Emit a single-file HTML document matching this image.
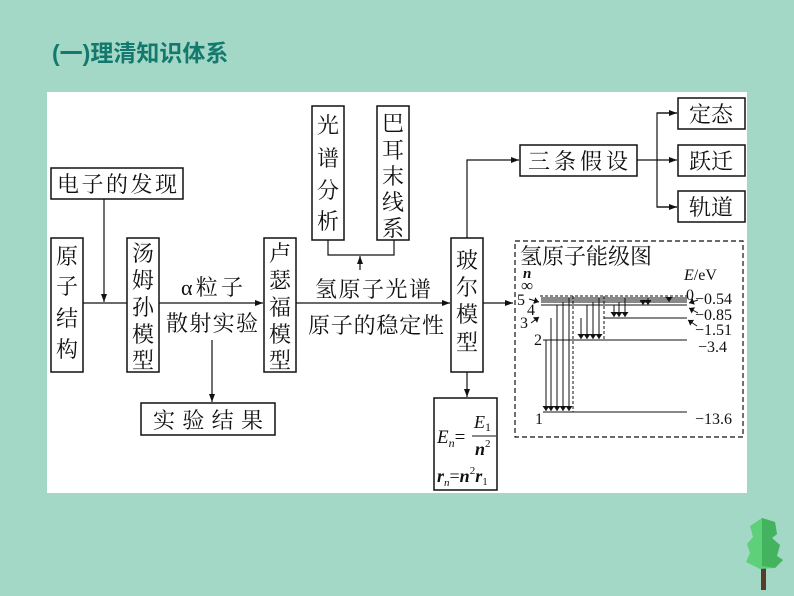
<!DOCTYPE html>
<html><head><meta charset="utf-8"><style>
html,body{margin:0;padding:0;}
body{width:794px;height:596px;background:#a4d8c6;position:relative;overflow:hidden;font-family:"Liberation Serif","Noto Serif CJK SC",serif;}
.title{position:absolute;left:52px;top:34px;font:bold 23px "Liberation Sans","Noto Sans CJK SC",sans-serif;color:#13796f;}
svg{position:absolute;left:0;top:0;}
</style></head><body>
<div class="title">(一)理清知识体系</div>
<svg width="794" height="596" viewBox="0 0 794 596" font-family="'Liberation Serif','Noto Serif CJK SC',serif">
<defs><marker id="a" markerWidth="8" markerHeight="6" refX="8" refY="3" orient="auto" markerUnits="userSpaceOnUse"><path d="M0,0 L8,3 L0,6 z" fill="#111"/></marker>
<marker id="s" markerWidth="5" markerHeight="7" refX="5" refY="3.5" orient="auto" markerUnits="userSpaceOnUse"><path d="M0,0 L5,3.5 L0,7 z" fill="#111"/></marker></defs>
<rect x="47" y="92" width="700" height="401" fill="#fff"/>
<g fill="none" stroke="#111" stroke-width="1.5">
<rect x="51" y="238" width="32" height="134"/>
<rect x="51" y="168" width="132" height="31"/>
<rect x="127" y="238" width="32" height="134"/>
<rect x="264" y="238" width="32" height="134"/>
<rect x="141" y="403" width="134" height="32"/>
<rect x="312" y="106" width="32" height="134"/>
<rect x="377" y="106" width="32" height="134"/>
<rect x="451" y="238" width="32" height="134"/>
<rect x="520" y="145" width="117" height="31"/>
<rect x="678" y="98" width="67" height="31"/>
<rect x="678" y="145" width="67" height="31"/>
<rect x="678" y="191" width="67" height="31"/>
<rect x="434" y="398" width="63" height="92"/>
</g>
<g stroke="#111" stroke-width="1.2" fill="none">
<line x1="104" y1="199" x2="104" y2="302" marker-end="url(#a)"/>
<line x1="83" y1="303" x2="127" y2="303"/>
<line x1="159" y1="303" x2="263" y2="303" marker-end="url(#a)"/>
<line x1="212" y1="340" x2="212" y2="402" marker-end="url(#a)"/>
<line x1="296" y1="303" x2="450" y2="303" marker-end="url(#a)"/>
<polyline points="328,240 328,255 394,255 394,240"/>
<line x1="360" y1="270" x2="360" y2="256" marker-end="url(#a)"/>
<line x1="483" y1="303" x2="513" y2="303" marker-end="url(#a)"/>
<polyline points="467,238 467,160 519,160" marker-end="url(#a)"/>
<line x1="467" y1="372" x2="467" y2="397" marker-end="url(#a)"/>
<line x1="637" y1="160" x2="677" y2="160" marker-end="url(#a)"/>
<polyline points="677,113 657,113 657,207 677,207"/>
<line x1="657" y1="113" x2="677" y2="113" marker-end="url(#a)"/>
<line x1="657" y1="207" x2="677" y2="207" marker-end="url(#a)"/>
</g>
<g font-size="22" fill="#111" text-anchor="middle">
<text x="67" y="264">原</text><text x="67" y="294">子</text><text x="67" y="326">结</text><text x="67" y="357">构</text>
<text x="143" y="261">汤</text><text x="143" y="288">姆</text><text x="143" y="315">孙</text><text x="143" y="342">模</text><text x="143" y="368">型</text>
<text x="280" y="261">卢</text><text x="280" y="288">瑟</text><text x="280" y="315">福</text><text x="280" y="342">模</text><text x="280" y="368">型</text>
<text x="328" y="133">光</text><text x="328" y="166">谱</text><text x="328" y="198">分</text><text x="328" y="229">析</text>
<text x="393" y="131">巴</text><text x="393" y="158">耳</text><text x="393" y="184">末</text><text x="393" y="210">线</text><text x="393" y="236">系</text>
<text x="467" y="268">玻</text><text x="467" y="295">尔</text><text x="467" y="322">模</text><text x="467" y="350">型</text>
<text x="117" y="192" textLength="120">电子的发现</text>
<text x="208" y="428" textLength="110">实验结果</text>
<text x="578" y="169" textLength="100">三条假设</text>
<text x="711" y="122">定态</text><text x="711" y="169">跃迁</text><text x="711" y="215">轨道</text>
<text x="212" y="295" textLength="62">α粒子</text>
<text x="212" y="331" textLength="92">散射实验</text>
<text x="373" y="297" textLength="116">氢原子光谱</text>
<text x="376" y="333" textLength="136">原子的稳定性</text>
</g>
<g fill="#111" font-style="italic">
<text x="437" y="443" font-size="19">E<tspan font-size="12" dy="4">n</tspan><tspan font-style="normal" dy="-4">=</tspan></text>
<line x1="472" y1="436" x2="496" y2="436" stroke="#111" stroke-width="1"/>
<text x="474" y="428" font-size="18">E<tspan font-size="12" font-style="normal" dy="3">1</tspan></text>
<text x="475" y="455" font-size="18" font-weight="bold">n<tspan font-size="11" font-style="normal" font-weight="normal" dy="-8">2</tspan></text>
<text x="437" y="482" font-size="18" font-weight="bold">r<tspan font-size="11" font-weight="normal" dy="4">n</tspan><tspan font-style="normal" font-weight="normal" dy="-4">=</tspan>n<tspan font-size="11" font-style="normal" font-weight="normal" dy="-8">2</tspan><tspan dy="8">r</tspan><tspan font-size="11" font-style="normal" font-weight="normal" dy="3">1</tspan></text>
</g>
<rect x="515" y="241" width="228" height="196" fill="none" stroke="#111" stroke-width="1.2" stroke-dasharray="5,3"/>
<text x="520" y="264" font-size="22" fill="#111">氢原子能级图</text>
<g font-size="16" fill="#111">
<text x="523" y="278" font-style="italic" font-weight="bold" font-size="15">n</text><text x="521" y="291" font-size="17">∞</text>
<text x="684" y="280"><tspan font-style="italic">E</tspan>/eV</text>
<text x="686" y="300">0</text>
<text x="517" y="305">5</text><text x="527" y="315">4</text><text x="520" y="328">3</text><text x="534" y="345">2</text><text x="535" y="424">1</text>
<text x="695" y="304">−0.54</text><text x="695" y="320">−0.85</text><text x="695" y="335">−1.51</text><text x="698" y="352">−3.4</text><text x="695" y="424">−13.6</text>
</g>
<g stroke="#111" stroke-width="1">
<line x1="541" y1="298" x2="687" y2="298"/><line x1="541" y1="300" x2="687" y2="300"/>
<line x1="541" y1="302" x2="687" y2="302"/><line x1="541" y1="305" x2="687" y2="305"/>
<line x1="604" y1="318" x2="687" y2="318"/>
<line x1="543" y1="340" x2="687" y2="340"/>
<line x1="543" y1="412" x2="687" y2="412"/>
<g stroke-dasharray="3,2"><line x1="540" y1="296" x2="687" y2="296"/><line x1="573" y1="296" x2="573" y2="412"/><line x1="604" y1="296" x2="604" y2="340"/></g>
<line x1="546" y1="340" x2="546" y2="411" marker-end="url(#s)"/>
<line x1="551" y1="318" x2="551" y2="411" marker-end="url(#s)"/>
<line x1="557" y1="305" x2="557" y2="411" marker-end="url(#s)"/>
<line x1="563" y1="302" x2="563" y2="411" marker-end="url(#s)"/>
<line x1="569" y1="298" x2="569" y2="411" marker-end="url(#s)"/>
<line x1="581" y1="318" x2="581" y2="339" marker-end="url(#s)"/>
<line x1="587" y1="305" x2="587" y2="339" marker-end="url(#s)"/>
<line x1="593" y1="302" x2="593" y2="339" marker-end="url(#s)"/>
<line x1="599" y1="298" x2="599" y2="339" marker-end="url(#s)"/>
<line x1="614" y1="305" x2="614" y2="317" marker-end="url(#s)"/>
<line x1="619" y1="302" x2="619" y2="317" marker-end="url(#s)"/>
<line x1="625" y1="298" x2="625" y2="317" marker-end="url(#s)"/>
<line x1="643" y1="302" x2="643" y2="305" marker-end="url(#s)"/>
<line x1="648" y1="298" x2="648" y2="305" marker-end="url(#s)"/>
<line x1="669" y1="298" x2="669" y2="302" marker-end="url(#s)"/>
<line x1="529" y1="299" x2="539" y2="302" marker-end="url(#s)"/>
<line x1="531" y1="323" x2="539" y2="317" marker-end="url(#s)"/>
<line x1="698" y1="300" x2="689" y2="303" marker-end="url(#s)"/>
<line x1="698" y1="313" x2="689" y2="308" marker-end="url(#s)"/>
<line x1="697" y1="326" x2="688" y2="320" marker-end="url(#s)"/>
</g>
<g>
<rect x="761" y="560" width="5" height="30" fill="#5a3b2a"/>
<polygon points="762,518 775,522 777,534 772,538 780,545 777,556 783,560 775,568 760,569 746,562 750,553 747,544 753,537 750,526" fill="#5fd07a"/>
<polygon points="762,518 775,522 777,534 772,538 780,545 777,556 783,560 775,568 762,566" fill="#44b35f"/>
</g>
</svg>
</body></html>
